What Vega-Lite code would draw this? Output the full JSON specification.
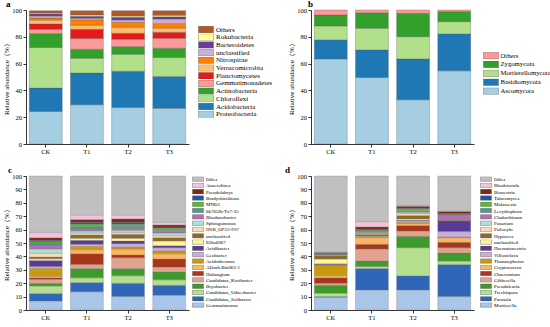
{
"$schema":"https://vega.github.io/schema/vega-lite/v6.json",
"padding":{"left":2,"top":0,"right":0,"bottom":0},
"bounds":"flush",
"columns":2,
"spacing":{"row":32,"column":122},
"resolve":{"scale":{"color":"independent","x":"independent","y":"independent"},"legend":{"color":"independent"}},
"config":{
 "view":{"stroke":null},
 "font":"Liberation Serif",
 "axis":{"domainColor":"#000","tickColor":"#000","labelColor":"#000","titleColor":"#000","labelFontSize":6.5,"titleFontSize":7,"titleFontWeight":"normal","tickSize":3,"labelPadding":1.5,"titlePadding":2,"grid":false,"labelFont":"Liberation Serif","titleFont":"Liberation Serif","domainWidth":0.8,"tickWidth":0.8},
 "legend":{"orient":"none","title":null,"padding":0,"labelFont":"Liberation Serif","labelColor":"#000","symbolStrokeColor":"#555","symbolStrokeWidth":0.4,"symbolOpacity":1},
 "title":{"font":"Liberation Serif","fontWeight":"bold","fontSize":9,"anchor":"start","frame":"group","color":"#000"}
},
"datasets":{
"ka":[{"t":"Proteobacteria","k":1},{"t":"Acidobacteria","k":2},{"t":"Chloroflexi","k":3},{"t":"Actinobacteria","k":4},{"t":"Gemmatimonadetes","k":5},{"t":"Planctomycetes","k":6},{"t":"Verrucomicrobia","k":7},{"t":"Nitrospirae","k":8},{"t":"unclassified","k":9},{"t":"Bacteroidetes","k":10},{"t":"Rokubacteria","k":11},{"t":"Others","k":12}],
"kb":[{"t":"Ascomycota","k":1},{"t":"Basidiomycota","k":2},{"t":"Mortierellomycota","k":3},{"t":"Zygomycota","k":4},{"t":"Others","k":5}],
"kc":[{"t":"Gemmatimonas","k":1},{"t":"Candidatus_Solibacter","k":2},{"t":"Candidatus_Udaeobacter","k":3},{"t":"Bryobacter","k":4},{"t":"Candidatus_Koribacter","k":5},{"t":"Haliangium","k":6},{"t":"ADurb.Bin063-1","k":7},{"t":"Acidothermus","k":8},{"t":"Geobacter","k":9},{"t":"Acidibacter","k":10},{"t":"Ellin6067","k":11},{"t":"unclassified","k":12},{"t":"HSB_OF53-F07","k":13},{"t":"Sphingomonas","k":14},{"t":"Rhodanobacter","k":15},{"t":"bk765lb-Tz7-35","k":16},{"t":"MND1","k":17},{"t":"Bradyrhizobium","k":18},{"t":"Pseudolabrys","k":19},{"t":"Anaerolinea","k":20},{"t":"Other","k":21}],
"kd":[{"t":"Mortierella","k":1},{"t":"Parasola","k":2},{"t":"Trechispora","k":3},{"t":"Pseudaleuria","k":4},{"t":"Gibberella","k":5},{"t":"Chaetomium","k":6},{"t":"Cryptococcus","k":7},{"t":"Thanatephorus","k":8},{"t":"Villosiclava","k":9},{"t":"Haematonectria","k":10},{"t":"unclassified","k":11},{"t":"Hypocrea","k":12},{"t":"Psilocybe","k":13},{"t":"Fusarium","k":14},{"t":"Cladorrhinum","k":15},{"t":"Lecythophora","k":16},{"t":"Malassezia","k":17},{"t":"Talaromyces","k":18},{"t":"Bionectria","k":19},{"t":"Rhodotorula","k":20},{"t":"Other","k":21}],
"a":[
{"g":"CK","t":"Proteobacteria","v":24.3},{"g":"CK","t":"Acidobacteria","v":17.4},{"g":"CK","t":"Chloroflexi","v":30.3},{"g":"CK","t":"Actinobacteria","v":10.4},{"g":"CK","t":"Gemmatimonadetes","v":3.2},{"g":"CK","t":"Planctomycetes","v":4.0},{"g":"CK","t":"Verrucomicrobia","v":2.9},{"g":"CK","t":"Nitrospirae","v":1.5},{"g":"CK","t":"unclassified","v":1.5},{"g":"CK","t":"Bacteroidetes","v":1.7},{"g":"CK","t":"Rokubacteria","v":0.6},{"g":"CK","t":"Others","v":1.7},
{"g":"T1","t":"Proteobacteria","v":29.3},{"g":"T1","t":"Acidobacteria","v":23.6},{"g":"T1","t":"Chloroflexi","v":11.1},{"g":"T1","t":"Actinobacteria","v":6.7},{"g":"T1","t":"Gemmatimonadetes","v":8.0},{"g":"T1","t":"Planctomycetes","v":6.9},{"g":"T1","t":"Verrucomicrobia","v":3.0},{"g":"T1","t":"Nitrospirae","v":4.0},{"g":"T1","t":"unclassified","v":1.2},{"g":"T1","t":"Bacteroidetes","v":1.5},{"g":"T1","t":"Rokubacteria","v":1.0},{"g":"T1","t":"Others","v":3.2},
{"g":"T2","t":"Proteobacteria","v":27.3},{"g":"T2","t":"Acidobacteria","v":27.0},{"g":"T2","t":"Chloroflexi","v":12.7},{"g":"T2","t":"Actinobacteria","v":5.7},{"g":"T2","t":"Gemmatimonadetes","v":5.5},{"g":"T2","t":"Planctomycetes","v":4.4},{"g":"T2","t":"Verrucomicrobia","v":4.5},{"g":"T2","t":"Nitrospirae","v":3.7},{"g":"T2","t":"unclassified","v":1.8},{"g":"T2","t":"Bacteroidetes","v":1.9},{"g":"T2","t":"Rokubacteria","v":1.0},{"g":"T2","t":"Others","v":4.0},
{"g":"T3","t":"Proteobacteria","v":26.6},{"g":"T3","t":"Acidobacteria","v":23.8},{"g":"T3","t":"Chloroflexi","v":14.1},{"g":"T3","t":"Actinobacteria","v":7.0},{"g":"T3","t":"Gemmatimonadetes","v":7.4},{"g":"T3","t":"Planctomycetes","v":4.5},{"g":"T3","t":"Verrucomicrobia","v":3.0},{"g":"T3","t":"Nitrospirae","v":3.6},{"g":"T3","t":"unclassified","v":3.3},{"g":"T3","t":"Bacteroidetes","v":1.7},{"g":"T3","t":"Rokubacteria","v":1.0},{"g":"T3","t":"Others","v":3.5}
],
"b":[
{"g":"CK","t":"Ascomycota","v":63.5},{"g":"CK","t":"Basidiomycota","v":14.2},{"g":"CK","t":"Mortierellomycota","v":10.4},{"g":"CK","t":"Zygomycota","v":8.2},{"g":"CK","t":"Others","v":3.7},
{"g":"T1","t":"Ascomycota","v":49.6},{"g":"T1","t":"Basidiomycota","v":20.6},{"g":"T1","t":"Mortierellomycota","v":16.2},{"g":"T1","t":"Zygomycota","v":11.6},{"g":"T1","t":"Others","v":2.0},
{"g":"T2","t":"Ascomycota","v":33.0},{"g":"T2","t":"Basidiomycota","v":30.5},{"g":"T2","t":"Mortierellomycota","v":16.6},{"g":"T2","t":"Zygomycota","v":17.4},{"g":"T2","t":"Others","v":2.5},
{"g":"T3","t":"Ascomycota","v":54.6},{"g":"T3","t":"Basidiomycota","v":27.5},{"g":"T3","t":"Mortierellomycota","v":9.2},{"g":"T3","t":"Zygomycota","v":7.5},{"g":"T3","t":"Others","v":1.2}
],
"c":[
{"g":"CK","t":"Gemmatimonas","v":6.7},{"g":"CK","t":"Candidatus_Solibacter","v":5.7},{"g":"CK","t":"Candidatus_Udaeobacter","v":5.5},{"g":"CK","t":"Bryobacter","v":2.0},{"g":"CK","t":"Candidatus_Koribacter","v":3.0},{"g":"CK","t":"Haliangium","v":1.2},{"g":"CK","t":"ADurb.Bin063-1","v":1.0},{"g":"CK","t":"Acidothermus","v":6.0},{"g":"CK","t":"Geobacter","v":1.4},{"g":"CK","t":"Acidibacter","v":4.5},{"g":"CK","t":"Ellin6067","v":1.2},{"g":"CK","t":"unclassified","v":1.3},{"g":"CK","t":"HSB_OF53-F07","v":3.0},{"g":"CK","t":"Sphingomonas","v":3.0},{"g":"CK","t":"Rhodanobacter","v":3.0},{"g":"CK","t":"bk765lb-Tz7-35","v":1.5},{"g":"CK","t":"MND1","v":1.0},{"g":"CK","t":"Bradyrhizobium","v":1.0},{"g":"CK","t":"Pseudolabrys","v":2.0},{"g":"CK","t":"Anaerolinea","v":4.0},{"g":"CK","t":"Other","v":42.0},
{"g":"T1","t":"Gemmatimonas","v":13.6},{"g":"T1","t":"Candidatus_Solibacter","v":7.0},{"g":"T1","t":"Candidatus_Udaeobacter","v":3.4},{"g":"T1","t":"Bryobacter","v":7.0},{"g":"T1","t":"Candidatus_Koribacter","v":3.0},{"g":"T1","t":"Haliangium","v":8.0},{"g":"T1","t":"ADurb.Bin063-1","v":3.0},{"g":"T1","t":"Acidothermus","v":2.5},{"g":"T1","t":"Geobacter","v":1.5},{"g":"T1","t":"Acidibacter","v":3.0},{"g":"T1","t":"Ellin6067","v":1.5},{"g":"T1","t":"unclassified","v":2.5},{"g":"T1","t":"HSB_OF53-F07","v":1.5},{"g":"T1","t":"Sphingomonas","v":1.5},{"g":"T1","t":"Rhodanobacter","v":1.5},{"g":"T1","t":"bk765lb-Tz7-35","v":1.5},{"g":"T1","t":"MND1","v":2.0},{"g":"T1","t":"Bradyrhizobium","v":1.5},{"g":"T1","t":"Pseudolabrys","v":2.0},{"g":"T1","t":"Anaerolinea","v":3.5},{"g":"T1","t":"Other","v":29.0},
{"g":"T2","t":"Gemmatimonas","v":10.0},{"g":"T2","t":"Candidatus_Solibacter","v":10.0},{"g":"T2","t":"Candidatus_Udaeobacter","v":5.5},{"g":"T2","t":"Bryobacter","v":5.5},{"g":"T2","t":"Candidatus_Koribacter","v":8.0},{"g":"T2","t":"Haliangium","v":2.0},{"g":"T2","t":"ADurb.Bin063-1","v":4.5},{"g":"T2","t":"Acidothermus","v":1.5},{"g":"T2","t":"Geobacter","v":2.5},{"g":"T2","t":"Acidibacter","v":2.0},{"g":"T2","t":"Ellin6067","v":2.0},{"g":"T2","t":"unclassified","v":3.0},{"g":"T2","t":"HSB_OF53-F07","v":1.5},{"g":"T2","t":"Sphingomonas","v":1.5},{"g":"T2","t":"Rhodanobacter","v":1.5},{"g":"T2","t":"bk765lb-Tz7-35","v":1.5},{"g":"T2","t":"MND1","v":1.5},{"g":"T2","t":"Bradyrhizobium","v":1.5},{"g":"T2","t":"Pseudolabrys","v":2.5},{"g":"T2","t":"Anaerolinea","v":3.0},{"g":"T2","t":"Other","v":29.0},
{"g":"T3","t":"Gemmatimonas","v":11.0},{"g":"T3","t":"Candidatus_Solibacter","v":7.5},{"g":"T3","t":"Candidatus_Udaeobacter","v":4.0},{"g":"T3","t":"Bryobacter","v":6.0},{"g":"T3","t":"Candidatus_Koribacter","v":3.5},{"g":"T3","t":"Haliangium","v":6.0},{"g":"T3","t":"ADurb.Bin063-1","v":4.0},{"g":"T3","t":"Acidothermus","v":2.0},{"g":"T3","t":"Geobacter","v":2.5},{"g":"T3","t":"Acidibacter","v":1.5},{"g":"T3","t":"Ellin6067","v":3.5},{"g":"T3","t":"unclassified","v":2.5},{"g":"T3","t":"HSB_OF53-F07","v":1.5},{"g":"T3","t":"Sphingomonas","v":2.0},{"g":"T3","t":"Rhodanobacter","v":1.0},{"g":"T3","t":"bk765lb-Tz7-35","v":1.0},{"g":"T3","t":"MND1","v":1.5},{"g":"T3","t":"Bradyrhizobium","v":1.0},{"g":"T3","t":"Pseudolabrys","v":1.5},{"g":"T3","t":"Anaerolinea","v":2.0},{"g":"T3","t":"Other","v":34.5}
],
"d":[
{"g":"CK","t":"Mortierella","v":9.5},{"g":"CK","t":"Parasola","v":0.5},{"g":"CK","t":"Trechispora","v":2.5},{"g":"CK","t":"Pseudaleuria","v":6.0},{"g":"CK","t":"Gibberella","v":1.5},{"g":"CK","t":"Chaetomium","v":4.0},{"g":"CK","t":"Cryptococcus","v":1.5},{"g":"CK","t":"Thanatephorus","v":8.0},{"g":"CK","t":"Villosiclava","v":0.5},{"g":"CK","t":"Haematonectria","v":0.5},{"g":"CK","t":"unclassified","v":3.5},{"g":"CK","t":"Hypocrea","v":2.5},{"g":"CK","t":"Psilocybe","v":0.3},{"g":"CK","t":"Fusarium","v":0.3},{"g":"CK","t":"Cladorrhinum","v":0.3},{"g":"CK","t":"Lecythophora","v":0.3},{"g":"CK","t":"Malassezia","v":0.3},{"g":"CK","t":"Talaromyces","v":0.3},{"g":"CK","t":"Bionectria","v":0.7},{"g":"CK","t":"Rhodotorula","v":0.2},{"g":"CK","t":"Other","v":56.8},
{"g":"T1","t":"Mortierella","v":15.0},{"g":"T1","t":"Parasola","v":16.0},{"g":"T1","t":"Trechispora","v":1.5},{"g":"T1","t":"Pseudaleuria","v":4.0},{"g":"T1","t":"Gibberella","v":9.0},{"g":"T1","t":"Chaetomium","v":3.5},{"g":"T1","t":"Cryptococcus","v":5.0},{"g":"T1","t":"Thanatephorus","v":1.0},{"g":"T1","t":"Villosiclava","v":0.5},{"g":"T1","t":"Haematonectria","v":0.5},{"g":"T1","t":"unclassified","v":0.5},{"g":"T1","t":"Hypocrea","v":0.5},{"g":"T1","t":"Psilocybe","v":0.5},{"g":"T1","t":"Fusarium","v":0.5},{"g":"T1","t":"Cladorrhinum","v":0.5},{"g":"T1","t":"Lecythophora","v":0.5},{"g":"T1","t":"Malassezia","v":0.5},{"g":"T1","t":"Talaromyces","v":0.5},{"g":"T1","t":"Bionectria","v":2.0},{"g":"T1","t":"Rhodotorula","v":4.0},{"g":"T1","t":"Other","v":34.0},
{"g":"T2","t":"Mortierella","v":15.0},{"g":"T2","t":"Parasola","v":10.5},{"g":"T2","t":"Trechispora","v":21.0},{"g":"T2","t":"Pseudaleuria","v":8.5},{"g":"T2","t":"Gibberella","v":4.0},{"g":"T2","t":"Chaetomium","v":4.0},{"g":"T2","t":"Cryptococcus","v":1.5},{"g":"T2","t":"Thanatephorus","v":1.0},{"g":"T2","t":"Villosiclava","v":1.0},{"g":"T2","t":"Haematonectria","v":0.5},{"g":"T2","t":"unclassified","v":1.0},{"g":"T2","t":"Hypocrea","v":2.5},{"g":"T2","t":"Psilocybe","v":1.5},{"g":"T2","t":"Fusarium","v":1.0},{"g":"T2","t":"Cladorrhinum","v":0.5},{"g":"T2","t":"Lecythophora","v":0.5},{"g":"T2","t":"Malassezia","v":1.5},{"g":"T2","t":"Talaromyces","v":0.5},{"g":"T2","t":"Bionectria","v":1.5},{"g":"T2","t":"Rhodotorula","v":0.5},{"g":"T2","t":"Other","v":22.0},
{"g":"T3","t":"Mortierella","v":10.0},{"g":"T3","t":"Parasola","v":24.0},{"g":"T3","t":"Trechispora","v":2.5},{"g":"T3","t":"Pseudaleuria","v":6.0},{"g":"T3","t":"Gibberella","v":4.0},{"g":"T3","t":"Chaetomium","v":4.0},{"g":"T3","t":"Cryptococcus","v":3.5},{"g":"T3","t":"Thanatephorus","v":0.5},{"g":"T3","t":"Villosiclava","v":4.0},{"g":"T3","t":"Haematonectria","v":8.0},{"g":"T3","t":"unclassified","v":0.2},{"g":"T3","t":"Hypocrea","v":0.5},{"g":"T3","t":"Psilocybe","v":0.2},{"g":"T3","t":"Fusarium","v":0.2},{"g":"T3","t":"Cladorrhinum","v":3.5},{"g":"T3","t":"Lecythophora","v":0.2},{"g":"T3","t":"Malassezia","v":0.2},{"g":"T3","t":"Talaromyces","v":0.5},{"g":"T3","t":"Bionectria","v":1.5},{"g":"T3","t":"Rhodotorula","v":0.2},{"g":"T3","t":"Other","v":26.3}
]
},
"concat":[
{
 "title":{"text":"a","dx":-20,"offset":-2},
 "data":{"name":"a"},
 "transform":[{"lookup":"t","from":{"data":{"name":"ka"},"key":"t","fields":["k"]}}],
 "width":163,"height":134,
 "mark":{"type":"bar","stroke":"#555","strokeWidth":0.3},
 "encoding":{
  "x":{"field":"g","type":"nominal","scale":{"paddingInner":0.2,"paddingOuter":0.08},"axis":{"title":null,"labelAngle":0}},
  "y":{"field":"v","type":"quantitative","scale":{"domain":[0,100],"nice":false},"axis":{"values":[0,20,40,60,80,100],"title":"Relative abundance（%）"}},
  "order":{"field":"k","type":"quantitative","sort":"ascending"},
  "color":{"field":"t","type":"nominal",
   "scale":{"domain":["Others","Rokubacteria","Bacteroidetes","unclassified","Nitrospirae","Verrucomicrobia","Planctomycetes","Gemmatimonadetes","Actinobacteria","Chloroflexi","Acidobacteria","Proteobacteria"],
    "range":["#b15928","#ffff99","#6a3d9a","#cab2d6","#ff7f00","#fdbf6f","#e31a1c","#fb9a99","#33a02c","#b2df8a","#1f78b4","#a6cee3"]},
   "legend":{"legendX":172,"legendY":16,"symbolType":"M-1,-0.45H1V0.45H-1Z","symbolSize":225,"clipHeight":7,"rowPadding":-0.3,"labelFontSize":7,"labelOffset":2}}
 }
},
{
 "title":{"text":"b","dx":-3,"offset":-2},
 "data":{"name":"b"},
 "transform":[{"lookup":"t","from":{"data":{"name":"kb"},"key":"t","fields":["k"]}}],
 "width":163,"height":134,
 "mark":{"type":"bar","stroke":"#555","strokeWidth":0.3},
 "encoding":{
  "x":{"field":"g","type":"nominal","scale":{"paddingInner":0.2,"paddingOuter":0.08},"axis":{"title":null,"labelAngle":0}},
  "y":{"field":"v","type":"quantitative","scale":{"domain":[0,100],"nice":false},"axis":{"values":[0,20,40,60,80,100],"title":"Relative abundance（%）"}},
  "order":{"field":"k","type":"quantitative","sort":"ascending"},
  "color":{"field":"t","type":"nominal",
   "scale":{"domain":["Others","Zygomycota","Mortierellomycota","Basidiomycota","Ascomycota"],"range":["#fb9a99","#33a02c","#b2df8a","#1f78b4","#a6cee3"]},
   "legend":{"legendX":172,"legendY":42,"symbolType":"M-1,-0.45H1V0.45H-1Z","symbolSize":225,"clipHeight":7,"rowPadding":0.9,"labelFontSize":6.7,"labelOffset":1.5}}
 }
},
{
 "title":{"text":"c","dx":-18,"offset":-2},
 "data":{"name":"c"},
 "transform":[{"lookup":"t","from":{"data":{"name":"kc"},"key":"t","fields":["k"]}}],
 "width":163,"height":134,
 "mark":{"type":"bar","stroke":"#777","strokeWidth":0.3},
 "encoding":{
  "x":{"field":"g","type":"nominal","scale":{"paddingInner":0.2,"paddingOuter":0.08},"axis":{"title":null,"labelAngle":0}},
  "y":{"field":"v","type":"quantitative","scale":{"domain":[0,100],"nice":false},"axis":{"values":[0,10,20,30,40,50,60,70,80,90,100],"title":"Relative abundance（%）"}},
  "order":{"field":"k","type":"quantitative","sort":"ascending"},
  "color":{"field":"t","type":"nominal",
   "scale":{"domain":["Other","Anaerolinea","Pseudolabrys","Bradyrhizobium","MND1","bk765lb-Tz7-35","Rhodanobacter","Sphingomonas","HSB_OF53-F07","unclassified","Ellin6067","Acidibacter","Geobacter","Acidothermus","ADurb.Bin063-1","Haliangium","Candidatus_Koribacter","Bryobacter","Candidatus_Udaeobacter","Candidatus_Solibacter","Gemmatimonas"],
    "range":["#c0c0c0","#efc3dd","#7d2a0d","#2552a5","#5cbd2b","#4d9b8c","#b56db5","#a6e3d5","#fbd9b5","#8a6b2d","#fff59b","#5a3a98","#c9b0d8","#c99a0e","#fbb565","#a8361a","#e0a390","#3f9a2e","#b5df8f","#2f66b8","#a9c6e8"]},
   "legend":{"legendX":166,"legendY":0.5,"symbolType":"M-1,-0.42H1V0.42H-1Z","symbolSize":121,"clipHeight":5,"rowPadding":0.3,"labelFontSize":5,"labelOffset":2}}
 }
},
{
 "title":{"text":"d","dx":-26,"offset":-2},
 "data":{"name":"d"},
 "transform":[{"lookup":"t","from":{"data":{"name":"kd"},"key":"t","fields":["k"]}}],
 "width":163,"height":134,
 "mark":{"type":"bar","stroke":"#777","strokeWidth":0.3},
 "encoding":{
  "x":{"field":"g","type":"nominal","scale":{"paddingInner":0.2,"paddingOuter":0.08},"axis":{"title":null,"labelAngle":0}},
  "y":{"field":"v","type":"quantitative","scale":{"domain":[0,100],"nice":false},"axis":{"values":[0,10,20,30,40,50,60,70,80,90,100],"title":"Relative abundance（%）"}},
  "order":{"field":"k","type":"quantitative","sort":"ascending"},
  "color":{"field":"t","type":"nominal",
   "scale":{"domain":["Other","Rhodotorula","Bionectria","Talaromyces","Malassezia","Lecythophora","Cladorrhinum","Fusarium","Psilocybe","Hypocrea","unclassified","Haematonectria","Villosiclava","Thanatephorus","Cryptococcus","Chaetomium","Gibberella","Pseudaleuria","Trechispora","Parasola","Mortierella"],
    "range":["#c0c0c0","#efc3dd","#7d2a0d","#2552a5","#5cbd2b","#4d9b8c","#b56db5","#a6e3d5","#fbd9b5","#8a6b2d","#fff59b","#5a3a98","#c9b0d8","#c99a0e","#fbb565","#a8361a","#e0a390","#3f9a2e","#b5df8f","#2f66b8","#a9c6e8"]},
   "legend":{"legendX":169,"legendY":0.5,"symbolType":"M-1,-0.42H1V0.42H-1Z","symbolSize":121,"clipHeight":5,"rowPadding":0.3,"labelFontSize":5,"labelOffset":2}}
 }
}
]
}
